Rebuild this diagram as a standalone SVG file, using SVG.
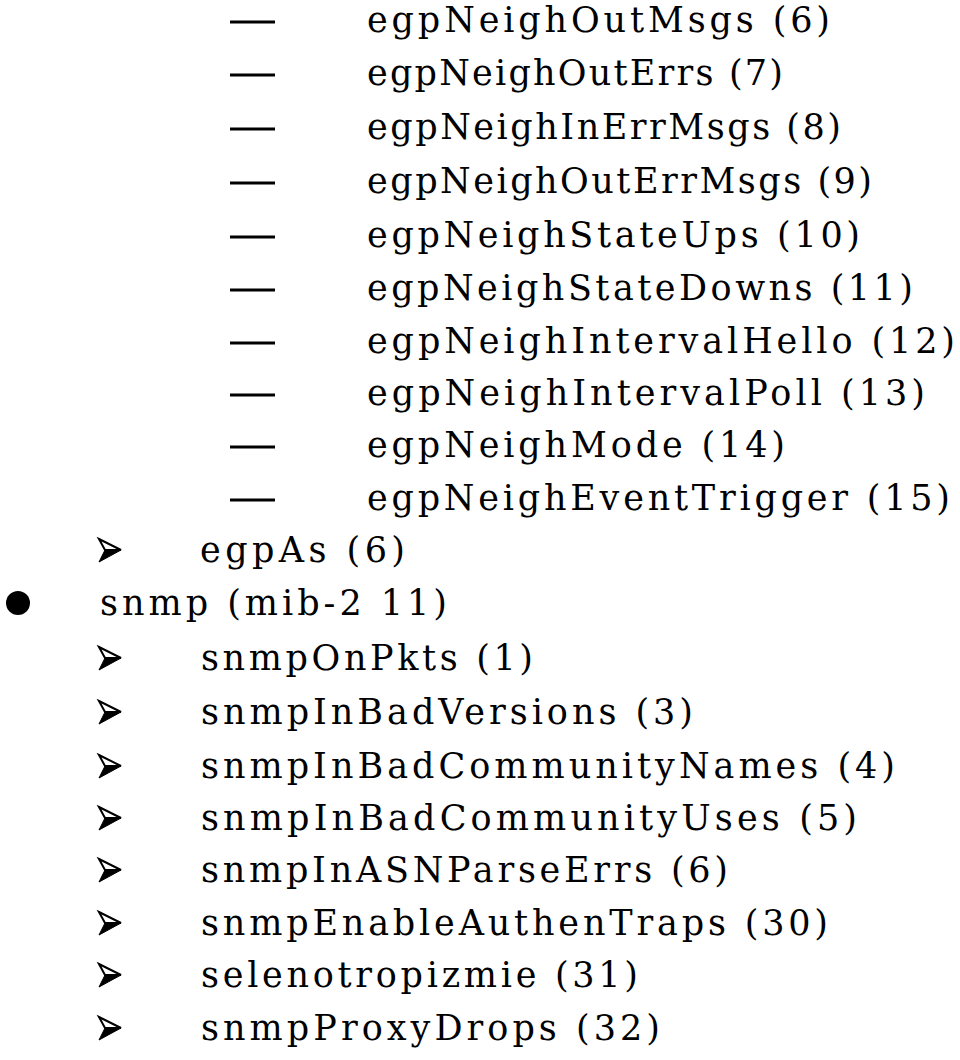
<svg xmlns="http://www.w3.org/2000/svg" width="960" height="1060" viewBox="0 0 960 1060">
<defs>
<style>
text{font-family:"DejaVu Serif","Liberation Serif",serif;font-size:35px;fill:#000}
.dash{stroke:#000;stroke-width:3}
.arr{fill:#fff;stroke:#000;stroke-width:2;stroke-linejoin:miter}
</style>
<g id="arrow">
<polygon class="arr" points="0,-11 22,0 6,0"/>
<polygon fill="#000" stroke="#000" stroke-width="1" points="6,0 22,0 0,12"/>
</g>
</defs>
<rect width="960" height="1060" fill="#fff"/>
<g id="egp-neigh">
<line class="dash" x1="230" y1="22" x2="275" y2="22"/><text x="367" y="32" textLength="463" lengthAdjust="spacing">egpNeighOutMsgs (6)</text>
<line class="dash" x1="230" y1="75" x2="275" y2="75"/><text x="367" y="85" textLength="416" lengthAdjust="spacing">egpNeighOutErrs (7)</text>
<line class="dash" x1="230" y1="129" x2="275" y2="129"/><text x="367" y="139" textLength="474" lengthAdjust="spacing">egpNeighInErrMsgs (8)</text>
<line class="dash" x1="230" y1="183" x2="275" y2="183"/><text x="367" y="193" textLength="505" lengthAdjust="spacing">egpNeighOutErrMsgs (9)</text>
<line class="dash" x1="230" y1="237" x2="275" y2="237"/><text x="367" y="247" textLength="493" lengthAdjust="spacing">egpNeighStateUps (10)</text>
<line class="dash" x1="230" y1="290" x2="275" y2="290"/><text x="367" y="300" textLength="546" lengthAdjust="spacing">egpNeighStateDowns (11)</text>
<line class="dash" x1="230" y1="343" x2="275" y2="343"/><text x="367" y="353" textLength="588" lengthAdjust="spacing">egpNeighIntervalHello (12)</text>
<line class="dash" x1="230" y1="395" x2="275" y2="395"/><text x="367" y="405" textLength="558" lengthAdjust="spacing">egpNeighIntervalPoll (13)</text>
<line class="dash" x1="230" y1="447" x2="275" y2="447"/><text x="367" y="457" textLength="418" lengthAdjust="spacing">egpNeighMode (14)</text>
<line class="dash" x1="230" y1="500" x2="275" y2="500"/><text x="367" y="510" textLength="583" lengthAdjust="spacing">egpNeighEventTrigger (15)</text>
</g>
<g id="egpAs">
<use href="#arrow" x="99" y="550"/><text x="200" y="562" textLength="205" lengthAdjust="spacing">egpAs (6)</text>
</g>
<g id="snmp">
<circle cx="18" cy="603" r="12" fill="#000"/><text x="100" y="615" textLength="347" lengthAdjust="spacing">snmp (mib-2 11)</text>
</g>
<g id="snmp-children">
<use href="#arrow" x="99" y="658"/><text x="201" y="670" textLength="332" lengthAdjust="spacing">snmpOnPkts (1)</text>
<use href="#arrow" x="99" y="712"/><text x="201" y="724" textLength="492" lengthAdjust="spacing">snmpInBadVersions (3)</text>
<use href="#arrow" x="99" y="766"/><text x="201" y="778" textLength="694" lengthAdjust="spacing">snmpInBadCommunityNames (4)</text>
<use href="#arrow" x="99" y="818"/><text x="201" y="830" textLength="656" lengthAdjust="spacing">snmpInBadCommunityUses (5)</text>
<use href="#arrow" x="99" y="870"/><text x="201" y="882" textLength="527" lengthAdjust="spacing">snmpInASNParseErrs (6)</text>
<use href="#arrow" x="99" y="923"/><text x="201" y="935" textLength="627" lengthAdjust="spacing">snmpEnableAuthenTraps (30)</text>
<use href="#arrow" x="99" y="975"/><text x="201" y="987" textLength="437" lengthAdjust="spacing">selenotropizmie (31)</text>
<use href="#arrow" x="99" y="1028"/><text x="201" y="1040" textLength="459" lengthAdjust="spacing">snmpProxyDrops (32)</text>
</g>
</svg>
